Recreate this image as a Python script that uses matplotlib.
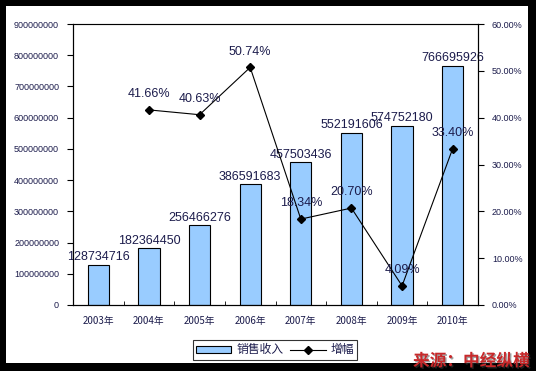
import matplotlib.pyplot as plt
import matplotlib.patheffects as pe
from matplotlib.patches import Rectangle
from matplotlib.ticker import FuncFormatter

years = ["2003年", "2004年", "2005年", "2006年", "2007年", "2008年", "2009年", "2010年"]
sales = [128734716, 182364450, 256466276, 386591683, 457503436, 552191606, 574752180, 766695926]
growth = [None, 41.66, 40.63, 50.74, 18.34, 20.70, 4.09, 33.40]

plt.rcParams['font.family'] = ['Liberation Sans', 'Noto Sans CJK SC', 'DejaVu Sans']
txt_col = "#1c1c4c"

fig = plt.figure(figsize=(5.36, 3.71), dpi=100)
fig.patch.set_facecolor("black")
fig.patches.append(Rectangle((6 / 536, 8 / 371), 522 / 536, 357 / 371,
                             transform=fig.transFigure, facecolor="white",
                             edgecolor="none", zorder=-10))

ax = fig.add_axes([73 / 536, 1 - 305 / 371, 405 / 536, 281 / 371])
ax.set_facecolor("white")
x = list(range(len(years)))
bars = ax.bar(x, sales, width=0.42, color="#99ccff", edgecolor="black", lw=0.8, zorder=2)
ax.set_xlim(-0.5, len(years) - 0.5)
ax.set_ylim(0, 900000000)
ax.set_yticks(range(0, 900000001, 100000000))
ax.yaxis.set_major_formatter(FuncFormatter(lambda v, p: f"{int(v)}"))
ax.set_xticks(x)
ax.set_xticklabels(years, family=['Noto Sans CJK SC'], fontsize=7, color=txt_col)
ax.set_xticks([i + 0.5 for i in x[:-1]], minor=True)
ax.tick_params(axis="x", which="major", length=0, pad=8)
ax.tick_params(axis="x", which="minor", length=3, direction="in")
ax.tick_params(axis="y", labelsize=6.5, labelcolor=txt_col, length=4, pad=6)
ax.spines["top"].set_color("#808080")
for s in ["left", "bottom", "right"]:
    ax.spines[s].set_color("black")

for i, v in enumerate(sales):
    ax.annotate(str(v), (i, v), xytext=(0, 1), textcoords="offset points",
                ha="center", va="bottom", fontsize=9, color=txt_col, zorder=5)

ax2 = ax.twinx()
ax2.set_ylim(0, 60)
ax2.set_yticks(range(0, 61, 10))
ax2.yaxis.set_major_formatter(FuncFormatter(lambda v, p: f"{v:.2f}%"))
ax2.tick_params(axis="y", labelsize=6.5, labelcolor=txt_col, length=4, pad=6)
gx = [i for i, g in enumerate(growth) if g is not None]
gy = [g for g in growth if g is not None]
line, = ax2.plot(gx, gy, color="black", lw=0.8, marker="D", markersize=4, zorder=4)
for i, g in zip(gx, gy):
    ax2.annotate(f"{g:.2f}%", (i, g), xytext=(0, 7), textcoords="offset points",
                 ha="center", va="bottom", fontsize=9, color=txt_col, zorder=5)

leg = fig.legend([bars, line], ["销售收入", "增幅"], loc="center",
                 bbox_to_anchor=(275 / 536, 1 - 350 / 371), ncol=2,
                 prop={"family": ["Noto Sans CJK SC"], "size": 8.5},
                 frameon=True, fancybox=False, edgecolor="black",
                 handlelength=3, handleheight=0.6, borderpad=0.3,
                 columnspacing=0.6, handletextpad=0.4)
leg.get_frame().set_linewidth(0.8)
for t in leg.get_texts():
    t.set_color(txt_col)

fig.text(413 / 536, 1 - 366 / 371, "来源：中经纵横", family=["Noto Sans CJK SC"],
         fontsize=12, fontweight="bold", color="#c8282a", ha="left", va="baseline",
         path_effects=[pe.withSimplePatchShadow(offset=(1, -1), shadow_rgbFace="#404040", alpha=0.5)])

fig.savefig("out.png", dpi=100, facecolor=fig.get_facecolor())
